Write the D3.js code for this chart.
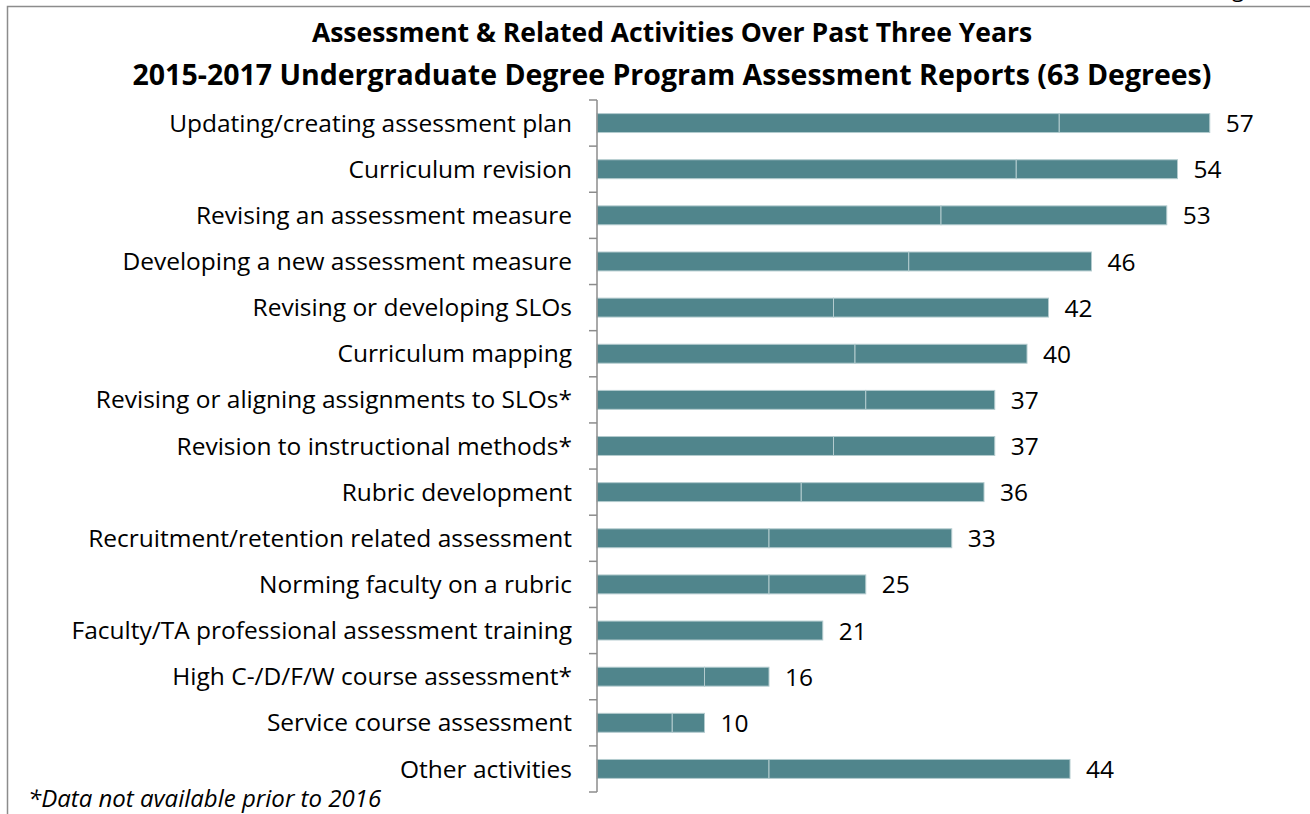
<!DOCTYPE html>
<html>
<head>
<meta charset="utf-8">
<script src="https://cdn.jsdelivr.net/npm/d3@7"></script>
<style>
  body { margin: 0; background: #fff; }
  svg { display: block; }
  text { font-family: "Open Sans", "Noto Sans", sans-serif; fill: #000; }
</style>
</head>
<body>
<div id="chart"></div>
<script>
// categories, top to bottom
var categories = [
    "Updating/creating assessment plan",
    "Curriculum revision",
    "Revising an assessment measure",
    "Developing a new assessment measure",
    "Revising or developing SLOs",
    "Curriculum mapping",
    "Revising or aligning assignments to SLOs*",
    "Revision to instructional methods*",
    "Rubric development",
    "Recruitment/retention related assessment",
    "Norming faculty on a rubric",
    "Faculty/TA professional assessment training",
    "High C-/D/F/W course assessment*",
    "Service course assessment",
    "Other activities"
];
// totals shown at end of each bar
var totals = [57, 54, 53, 46, 42, 40, 37, 37, 36, 33, 25, 21, 16, 10, 44];
// first segment of each bar (rest = totals - first)
var firstPart = [43, 39, 32, 29, 22, 24, 25, 22, 19, 16, 16, 21, 10, 7, 16];

var titleLines = [
    "Assessment & Related Activities Over Past Three Years",
    "2015-2017 Undergraduate Degree Program Assessment Reports (63 Degrees)"
];
var footnote = "*Data not available prior to 2016";

var width = 1310,
    height = 814;

var barColor = "#50858c",
    barEdge = "#b3cbce";

var svg = d3.select("#chart").append("svg")
    .attr("width", width)
    .attr("height", height);

// frame (cut off on top/right like the source screenshot)
svg.append("path")
    .attr("d", "M7.5," + height + "V6.5H" + width)
    .attr("fill", "none")
    .attr("stroke", "#8c8c8c")
    .attr("stroke-width", 1.5);

svg.append("text")
    .attr("x", 1232)
    .attr("y", -3)
    .style("font-size", "22px")
    .text("g");

// titles
svg.selectAll(".title")
    .data(titleLines)
    .enter().append("text")
    .attr("class", "title")
    .attr("x", 672)
    .attr("y", function(d, i) { return 42 + i * 43; })
    .attr("text-anchor", "middle")
    .style("font-size", function(d, i) { return i == 0 ? "26.5px" : "28.5px"; })
    .style("font-weight", "bold")
    .text(function(d) { return d; });

var x = d3.scaleLinear()
    .domain([0, 63])
    .range([597, 597 + 63 * 10.75]);

var y = d3.scaleBand()
    .domain(categories)
    .range([100, 792])
    .paddingInner(0.59)
    .paddingOuter(0.295);

// stacked pieces
var rows = categories.map(function(c, i) {
    return { cat: c, a: firstPart[i], b: totals[i] - firstPart[i], total: totals[i] };
});
var stack = d3.stack().keys(["a", "b"]);
var layers = stack(rows);

svg.selectAll(".layer")
    .data(layers)
    .enter().append("g")
    .attr("class", "layer")
    .selectAll("rect")
    .data(function(d) { return d.filter(function(p) { return p[1] > p[0]; }); })
    .enter().append("rect")
    .attr("x", function(d) { return x(d[0]); })
    .attr("y", function(d) { return y(d.data.cat); })
    .attr("width", function(d) { return x(d[1]) - x(d[0]); })
    .attr("height", y.bandwidth())
    .attr("fill", barColor)
    .attr("stroke", barEdge)
    .attr("stroke-width", 1);

// category axis: line with ticks at band boundaries
var axis = svg.append("g").attr("class", "axis");
axis.append("line")
    .attr("x1", x(0)).attr("x2", x(0))
    .attr("y1", y.range()[0]).attr("y2", y.range()[1])
    .attr("stroke", "#8c8c8c")
    .attr("stroke-width", 1.5);
axis.selectAll(".tick")
    .data(d3.range(categories.length + 1))
    .enter().append("line")
    .attr("x1", x(0) - 8).attr("x2", x(0))
    .attr("y1", function(i) { return y.range()[0] + i * y.step(); })
    .attr("y2", function(i) { return y.range()[0] + i * y.step(); })
    .attr("stroke", "#8c8c8c")
    .attr("stroke-width", 1.5);

svg.selectAll(".cat")
    .data(categories)
    .enter().append("text")
    .attr("class", "cat")
    .attr("x", 572)
    .attr("y", function(d) { return y(d) + y.bandwidth() / 2; })
    .attr("dy", "0.35em")
    .attr("text-anchor", "end")
    .style("font-size", "24.5px")
    .text(function(d) { return d; });

svg.selectAll(".val")
    .data(rows)
    .enter().append("text")
    .attr("class", "val")
    .attr("x", function(d) { return x(d.total) + 16; })
    .attr("y", function(d) { return y(d.cat) + y.bandwidth() / 2; })
    .attr("dy", "0.37em")
    .style("font-size", "24.5px")
    .text(function(d) { return d.total; });

svg.append("text")
    .attr("x", 28)
    .attr("y", 807)
    .style("font-size", "24px")
    .style("font-style", "italic")
    .text(footnote);
</script>
</body>
</html>
